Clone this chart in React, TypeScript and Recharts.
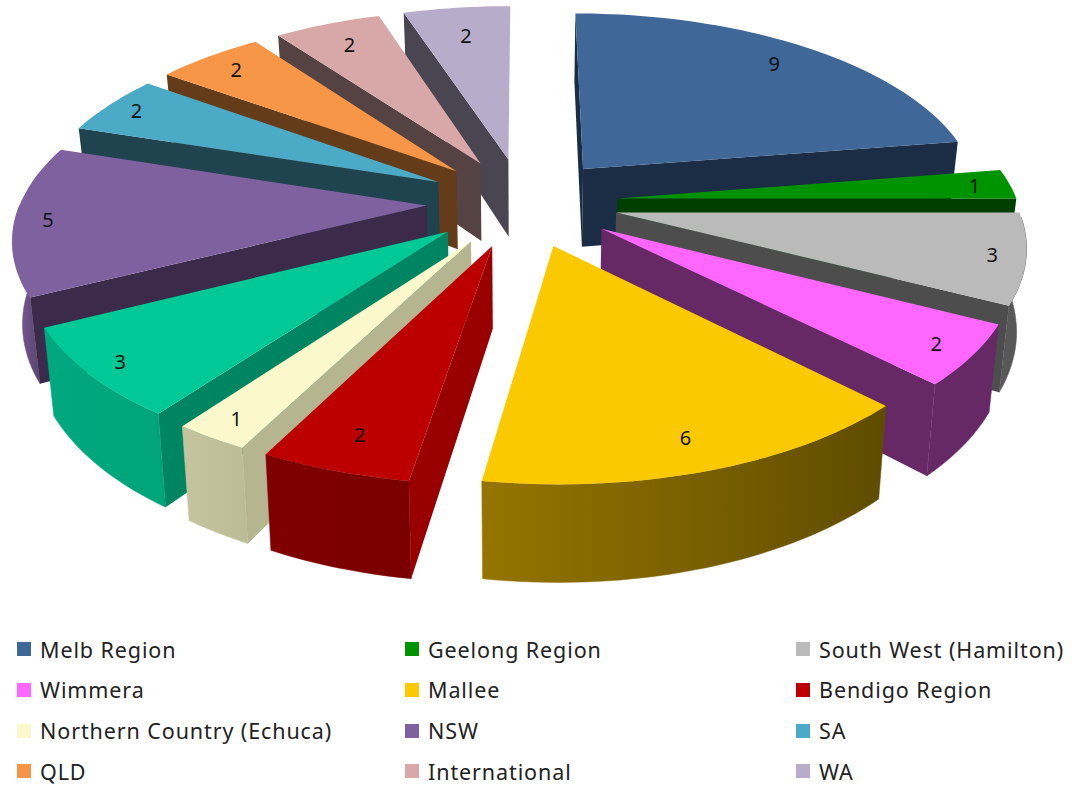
import { PieChart, Pie } from 'recharts';

const regions = [
  'Melb Region', 'Geelong Region', 'South West (Hamilton)', 'Wimmera', 'Mallee', 'Bendigo Region',
  'Northern Country (Echuca)', 'Gippsland', 'NSW', 'SA', 'QLD', 'International', 'WA',
];
const counts = [9, 1, 3, 2, 6, 2, 1, 3, 5, 2, 2, 2, 2];
const topColors = ['#3F6797', '#009300', '#BABABA', '#FF66FF', '#FBC900', '#BC0000', '#FBF9CB', '#00C896', '#8061A0', '#4BABC6', '#F79646', '#D8A8A8', '#B7ACC9'];
const faceColors = ['#1A2D45', '#003F00', '#4D4D4D', '#662966', '#5F4C00', '#990000', '#B5B58F', '#008562', '#3C2A4B', '#1F444F', '#653C1A', '#554242', '#494551'];
const rimLeftColors = ['#1A2D45', '#003F00', '#5A5A5A', '#662966', '#957500', '#800000', '#C4C49E', '#00A880', '#7D5E9C', '#1F444F', '#653C1A', '#554242', '#494551'];
const rimRightColors = ['#1A2D45', '#003F00', '#555555', '#662966', '#5F4C00', '#7A0000', '#BCBC96', '#00A478', '#5A4470', '#1F444F', '#653C1A', '#554242', '#494551'];
// the teal slice has no entry in the reference's legend
const legendOrder = [0, 1, 2, 3, 4, 5, 6, 8, 9, 10, 11, 12];
// how far out along the slice each number sits
const labelFractions = [0.85, 0.91, 0.92, 0.91, 0.87, 0.86, 0.915, 0.92, 0.92, 0.915, 0.88, 0.84, 0.8];

const rows = regions.map((name, i) => ({ name, value: counts[i] }));

const CX = 523;
const CY = 202;
const RADIUS = 400;
const EXPLODE = 95;
const SQUASH = 0.47;
const PERSPECTIVE = 0.15;
const THICKNESS = 80;
const LEFT_STRETCH = 1.015;
const CONVERGE = 0.02; // side edges lean in towards the bottom

const rad = (d: number) => (d * Math.PI) / 180;

// slices get painted back to front, so sort them by how near their middle is
const total = counts.reduce((a, b) => a + b, 0);
let running = 0;
const depths = counts.map((c, i) => {
  const mid = ((running + c / 2) / total) * 360;
  running += c;
  return { i, depth: -Math.cos(rad(mid)) };
});
const drawOrder = depths.sort((a, b) => a.depth - b.depth).map((d) => d.i);

function project(u: number, v: number, down = 0) {
  const f = 1 / (1 - (PERSPECTIVE * v) / RADIUS);
  const lean = 1 - (CONVERGE * down) / THICKNESS;
  return { x: CX + u * f * (u < 0 ? LEFT_STRETCH : 1) * lean, y: CY + SQUASH * v * f + down * f };
}

function toPath(points: { x: number; y: number }[]) {
  return points.map((p, n) => `${n ? 'L' : 'M'}${p.x.toFixed(1)} ${p.y.toFixed(1)}`).join(' ') + ' Z';
}

function Slice3D(props: any) {
  const { startAngle, endAngle, midAngle, outerRadius, value } = props;
  const i = regions.indexOf(props.name);
  // recharts angles run counter clockwise from 3 o'clock
  const from = 90 - startAngle;
  const to = 90 - endAngle;
  const mid = 90 - midAngle;
  const ou = EXPLODE * Math.sin(rad(mid));
  const ov = -EXPLODE * Math.cos(rad(mid));
  const at = (deg: number, r: number, down = 0) =>
    project(ou + r * Math.sin(rad(deg)), ov - r * Math.cos(rad(deg)), down);

  const arc: number[] = [];
  for (let a = from; a < to; a += 1.5) arc.push(a);
  arc.push(to);

  // only the near half of the rim can be seen
  const rimArc = arc.filter((a) => Math.cos(rad(a)) <= 0);

  const apex = at(0, 0);
  const apexLow = at(0, 0, THICKNESS);
  const top = [apex, ...arc.map((a) => at(a, outerRadius))];
  const rim = [...rimArc.map((a) => at(a, outerRadius)), ...[...rimArc].reverse().map((a) => at(a, outerRadius, THICKNESS))];
  const faceAt = (a: number) => [apex, at(a, outerRadius), at(a, outerRadius, THICKNESS), apexLow];
  const showStart = -Math.sin(rad(from)) > -1e-6;
  const showEnd = Math.sin(rad(to)) > 1e-6;
  const xs = rim.length ? rim.map((p) => p.x) : [0, 1];
  const label = at(mid, outerRadius * labelFractions[i]);
  const gradId = `rim-${i}`;

  return (
    <g>
      <defs>
        <linearGradient id={gradId} gradientUnits="userSpaceOnUse" x1={Math.min(...xs)} x2={Math.max(...xs)} y1={0} y2={0}>
          <stop offset="0%" stopColor={rimLeftColors[i]} />
          <stop offset="100%" stopColor={rimRightColors[i]} />
        </linearGradient>
      </defs>
      {rimArc.length > 1 && <path d={toPath(rim)} fill={`url(#${gradId})`} stroke={`url(#${gradId})`} strokeWidth={0.5} />}
      {showStart && <path d={toPath(faceAt(from))} fill={faceColors[i]} />}
      {showEnd && <path d={toPath(faceAt(to))} fill={faceColors[i]} />}
      <path d={toPath(top)} fill={topColors[i]} />
      <text x={label.x} y={label.y} textAnchor="middle" dominantBaseline="central" fontSize={20} fontFamily="'Noto Sans', sans-serif" fill="#111">
        {value}
      </text>
    </g>
  );
}

function LegendGrid() {
  return (
    <div style={{ position: 'absolute', left: 0, top: 0, width: 1072, height: 785, pointerEvents: 'none' }}>
      {legendOrder.map((idx, n) => (
        <div
          key={idx}
          style={{
            position: 'absolute',
            left: [17, 405, 796][n % 3],
            top: 634 + Math.floor(n / 3) * 40.8,
            height: 30,
            display: 'flex',
            alignItems: 'center',
            fontFamily: "'Noto Sans', sans-serif",
            fontSize: 21.5,
            letterSpacing: 0.9,
            color: '#222',
            whiteSpace: 'nowrap',
          }}
        >
          <span style={{ width: 14, height: 14, background: topColors[idx], marginRight: 9, flex: 'none' }} />
          {regions[idx]}
        </div>
      ))}
    </div>
  );
}

export default function App() {
  return (
    <div style={{ position: 'absolute', left: 0, top: 0, width: 1072, height: 785, background: '#fff' }}>
      <PieChart width={1072} height={785} margin={{ top: 0, right: 0, bottom: 0, left: 0 }}>
        {drawOrder.map((idx) => (
          <Pie
            key={idx}
            data={rows}
            dataKey="value"
            nameKey="name"
            cx={CX}
            cy={CY}
            outerRadius={RADIUS}
            startAngle={90}
            endAngle={-270}
            stroke="none"
            label={false}
            labelLine={false}
            isAnimationActive={false}
            shape={(p: any) => (p.name === regions[idx] ? <Slice3D {...p} /> : <g />)}
          />
        ))}
      </PieChart>
      <LegendGrid />
    </div>
  );
}
